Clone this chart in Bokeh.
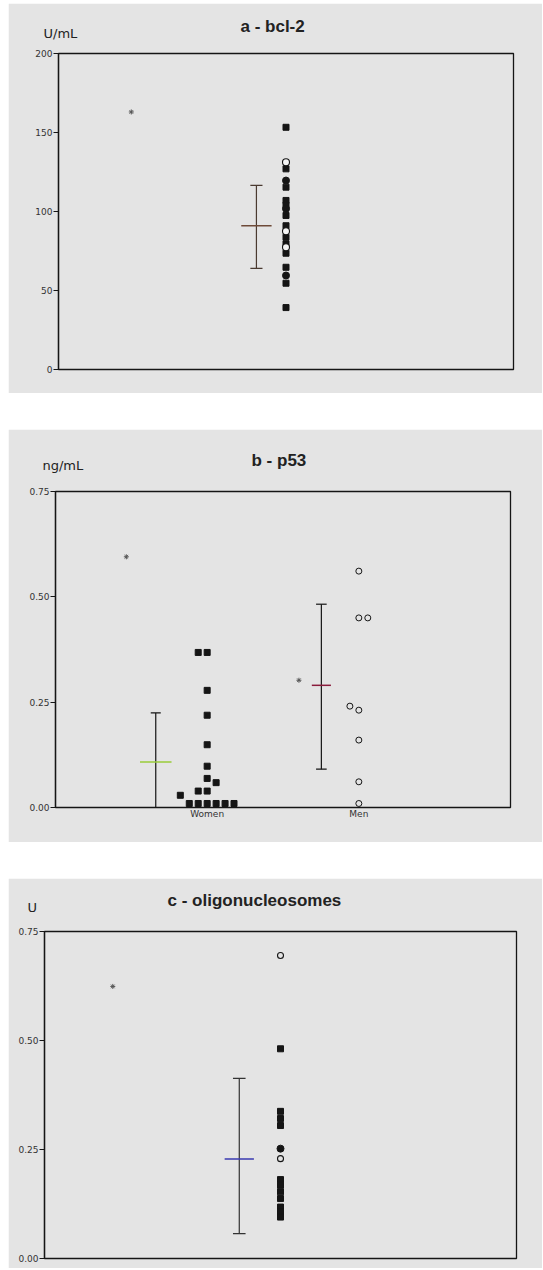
from bokeh.plotting import figure
from bokeh.models import Range1d, FixedTicker, Title, NumeralTickFormatter
from bokeh.embed import file_html
from bokeh.resources import INLINE

# ---------------- data ----------------
# panel a: bcl-2 (U/mL)
a_squares = [153.3, 127.0, 115.4, 107.0, 104.0, 97.5, 91.0, 83.7, 79.5, 73.6, 64.7, 54.6, 39.2]
a_filled = [119.6, 101.7, 59.5]
a_open = [131.2, 87.5, 77.4]
a_stat = {"mean": 91.0, "low": 64.0, "high": 116.5}
a_star = 163.0

# panel b: p53 (ng/mL)
b_categories = ["Women", "Men"]
b_women = [0.368, 0.368, 0.278, 0.219, 0.149, 0.098, 0.069, 0.059, 0.039, 0.039, 0.029,
           0.0095, 0.0095, 0.0095, 0.0095, 0.0095, 0.0095]
b_women_slot = [-1, 0, 0, 0, 0, 0, 0, 1, -1, 0, -3, -2, -1, 0, 1, 2, 3]
b_men = [0.561, 0.450, 0.450, 0.2405, 0.231, 0.160, 0.061, 0.0095]
b_men_slot = [0, 0, 1, -1, 0, 0, 0, 0]
b_women_stat = {"mean": 0.108, "low": -0.0085, "high": 0.2245}
b_men_stat = {"mean": 0.290, "low": 0.091, "high": 0.4825}
b_stars = [0.595, 0.302]

# panel c: oligonucleosomes (U)
c_squares = [0.481, 0.3375, 0.321, 0.305, 0.181, 0.168, 0.153, 0.1375, 0.118, 0.107, 0.095]
c_filled = [0.252]
c_open = [0.695, 0.229]
c_stat = {"mean": 0.228, "low": 0.057, "high": 0.413}
c_star = 0.624

# ---------------- style ----------------
BG = "#e4e4e4"
INK = "#151515"
FONT = "Liberation Sans"
TFONT = "DejaVu Sans"
SLOT = 0.059
W = 534


def make_fig(height, ml, fw, mt, fh, ymax, yticks, fmt, margin):
    p = figure(width=W, height=height, x_range=Range1d(0, 3), y_range=Range1d(0, ymax),
               output_backend="svg", toolbar_location=None, title_location=None,
               min_border_left=ml, min_border_right=W - ml - fw,
               min_border_top=mt, min_border_bottom=height - mt - fh)
    p.margin = margin
    p.background_fill_color = BG
    p.border_fill_color = BG
    p.grid.visible = False
    p.outline_line_color = INK
    p.outline_line_width = 1.3
    p.xaxis.visible = False
    ax = p.yaxis[0]
    ax.ticker = FixedTicker(ticks=yticks, minor_ticks=[])
    if fmt:
        ax.formatter = NumeralTickFormatter(format=fmt)
    ax.axis_line_color = INK
    ax.axis_line_width = 1.3
    ax.major_tick_in = 0
    ax.major_tick_out = 5
    ax.major_tick_line_color = INK
    ax.major_label_standoff = 1
    ax.major_label_text_font = TFONT
    ax.major_label_text_font_size = "9px"
    ax.major_label_text_color = "#333333"
    return p


def add_titles(p, title, t_off, unit, u_off, u_stand, t_stand):
    # the unit row sits next to the frame, the main title row above it
    p.add_layout(Title(text=unit, align="left", offset=u_off, standoff=u_stand,
                       text_font=TFONT, text_font_size="13px", text_font_style="normal",
                       text_color="#222222"), "above")
    p.add_layout(Title(text=title, align="left", offset=t_off, standoff=t_stand,
                       text_font=FONT, text_font_size="17px", text_font_style="bold",
                       text_color="#222222"), "above")


def add_bar(p, x, stat, mean_hw, cap_hw, mean_color, bar_color):
    p.segment(x0=[x], y0=[stat["low"]], x1=[x], y1=[stat["high"]], line_color=bar_color, line_width=1.2)
    p.segment(x0=[x - cap_hw, x - cap_hw], y0=[stat["low"], stat["high"]],
              x1=[x + cap_hw, x + cap_hw], y1=[stat["low"], stat["high"]],
              line_color=bar_color, line_width=1.2)
    p.segment(x0=[x - mean_hw], y0=[stat["mean"]], x1=[x + mean_hw], y1=[stat["mean"]],
              line_color=mean_color, line_width=1.5)


def add_points(p, x, squares, filled, opened, open_fill, osize):
    p.scatter(x=[x] * len(squares), y=squares, marker="square", size=6, fill_color=INK, line_color=INK)
    p.scatter(x=[x] * len(filled), y=filled, marker="circle", size=7, fill_color=INK, line_color=INK)
    p.scatter(x=[x] * len(opened), y=opened, marker="circle", size=osize, fill_color=open_fill,
              line_color=INK, line_width=1.1)


# ---------------- panel a ----------------
pa = make_fig(390, 50, 455, 50, 316, 200, [0, 50, 100, 150, 200], None, (3, 0, 0, 8))
add_titles(pa, "a - bcl-2", 182, "U/mL", -15, 25, -49)
add_bar(pa, 1.305, a_stat, 0.10, 0.04, "#6e4a38", "#4a3a30")
add_points(pa, 1.5, a_squares, a_filled, a_open, "#f6f6f6", 7)
pa.scatter(x=[0.48], y=[a_star], marker="asterisk", size=5, line_color="#555555")

# ---------------- panel b ----------------
pb = make_fig(413, 47, 455, 62, 316, 0.75, [0, 0.25, 0.5, 0.75], "0.00", (36, 0, 0, 8))
add_titles(pb, "b - p53", 196, "ng/mL", -13, 37, -65)
xa = pb.xaxis[0]
xa.visible = True
xa.ticker = FixedTicker(ticks=[1, 2], minor_ticks=[])
xa.major_label_overrides = {1: b_categories[0], 2: b_categories[1]}
xa.axis_line_color = None
xa.major_tick_line_color = None
xa.major_tick_out = 0
xa.major_label_standoff = 1
xa.major_label_text_font = TFONT
xa.major_label_text_font_size = "9px"
xa.major_label_text_color = "#333333"

add_bar(pb, 0.661, b_women_stat, 0.104, 0.033, "#9acd3a", INK)
add_bar(pb, 1.753, b_men_stat, 0.063, 0.035, "#8a1c3c", INK)
pb.scatter(x=[1 + s * SLOT for s in b_women_slot], y=b_women, marker="square", size=6,
           fill_color=INK, line_color=INK)
pb.scatter(x=[2 + s * SLOT for s in b_men_slot], y=b_men, marker="circle", size=6,
           fill_color=BG, line_color=INK, line_width=1.0)
pb.scatter(x=[0.467, 1.605], y=b_stars, marker="asterisk", size=5, line_color="#555555")

# ---------------- panel c ----------------
pc = make_fig(390, 36, 472, 53, 327, 0.75, [0, 0.25, 0.5, 0.75], "0.00", (36, 0, 0, 8))
add_titles(pc, "c - oligonucleosomes", 123, "U", -17, 33, -57)
add_bar(pc, 1.238, c_stat, 0.093, 0.04, "#3a3ab0", "#333333")
add_points(pc, 1.5, c_squares, c_filled, c_open, BG, 6)
pc.scatter(x=[0.434], y=[c_star], marker="asterisk", size=5, line_color="#555555")

open("out.html", "w").write(file_html([pa, pb, pc], INLINE))
